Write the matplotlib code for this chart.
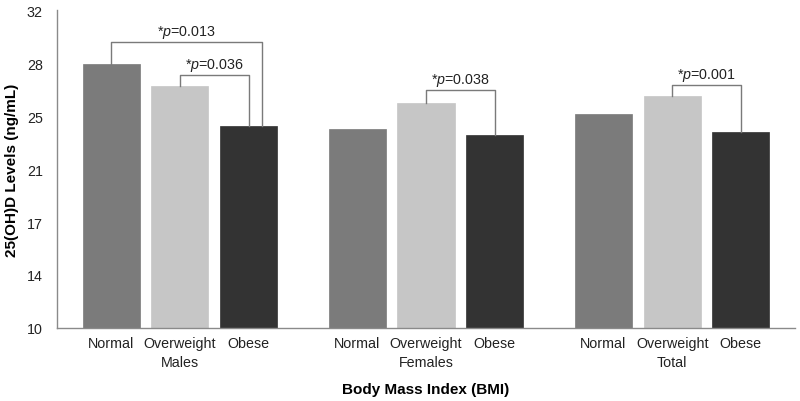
import numpy as np
import matplotlib.pyplot as plt

plt.rcParams['font.family'] = ['Liberation Sans', 'DejaVu Sans']
plt.rcParams['mathtext.fontset'] = 'custom'
plt.rcParams['mathtext.rm'] = 'Liberation Sans'
plt.rcParams['mathtext.it'] = 'Liberation Sans:italic'

groups = ['Males', 'Females', 'Total']
bmi = ['Normal', 'Overweight', 'Obese']
normal = [28.26, 23.77, 24.83]
overweight = [26.72, 25.55, 26.05]
obese = [24.00, 23.33, 23.54]
colors = ['#7b7b7b', '#c6c6c6', '#333333']

y_ticks = np.linspace(10, 32, 7)
y_tick_labels = ['10', '14', '17', '21', '25', '28', '32']

# significance brackets: group, from bar, to bar, bracket height, label
brackets = [
    (0, 0, 2, 29.77, '0.013'),
    (0, 1, 2, 27.48, '0.036'),
    (1, 1, 2, 26.49, '0.038'),
    (2, 1, 2, 26.81, '0.001'),
]

fig = plt.figure(figsize=(8, 4.02), dpi=100)
ax = fig.add_axes([0.071, 0.1816, 0.923, 0.791])

gx = np.arange(len(groups))
step = 0.279
width = 0.232
series = [normal, overweight, obese]
for i, vals in enumerate(series):
    ax.bar(gx + (i - 1) * step, vals, width=width, bottom=0, color=colors[i],
           edgecolor=colors[i], linewidth=0.5)

ax.set_xlim(-0.5, 2.5)
ax.set_ylim(10, 32)
ax.set_yticks(y_ticks)
ax.set_yticklabels(y_tick_labels)

xt = [g + (i - 1) * step for g in gx for i in range(3)]
ax.set_xticks(xt)
ax.set_xticklabels(bmi * len(groups))
ax.tick_params(axis='both', length=0, labelsize=10.3, colors='#222222')
ax.tick_params(axis='y', pad=10)
ax.tick_params(axis='x', pad=6)

for g, name in zip(gx, groups):
    ax.text(g, -0.107, name, transform=ax.get_xaxis_transform(),
            ha='center', va='center', fontsize=10.3, color='#222222')

for s in ['top', 'right']:
    ax.spines[s].set_visible(False)
for s in ['left', 'bottom']:
    ax.spines[s].set_color('#8a8a8a')
    ax.spines[s].set_linewidth(1)

for g, a, b, h, p in brackets:
    xa = g + (a - 1) * step
    xb = g + (b - 1) * step
    if a == 0:
        xb += 0.055
    ya = series[a][g]
    yb = series[b][g]
    ax.plot([xa, xa, xb, xb], [ya, h, h, yb], color='#7a7a7a', lw=1, clip_on=False)
    ax.annotate('*$p$=' + p, xy=((xa + xb) / 2, h), xytext=(0, 1.5),
                textcoords='offset points', ha='center', va='bottom',
                fontsize=10.3, color='#222222')

ax.set_ylabel('25(OH)D Levels (ng/mL)', fontsize=11, fontweight='bold')
ax.yaxis.set_label_coords(-0.051, 0.5)
ax.set_xlabel('Body Mass Index (BMI)', fontsize=11, fontweight='bold', labelpad=23)

fig.savefig('out.png', dpi=100)
